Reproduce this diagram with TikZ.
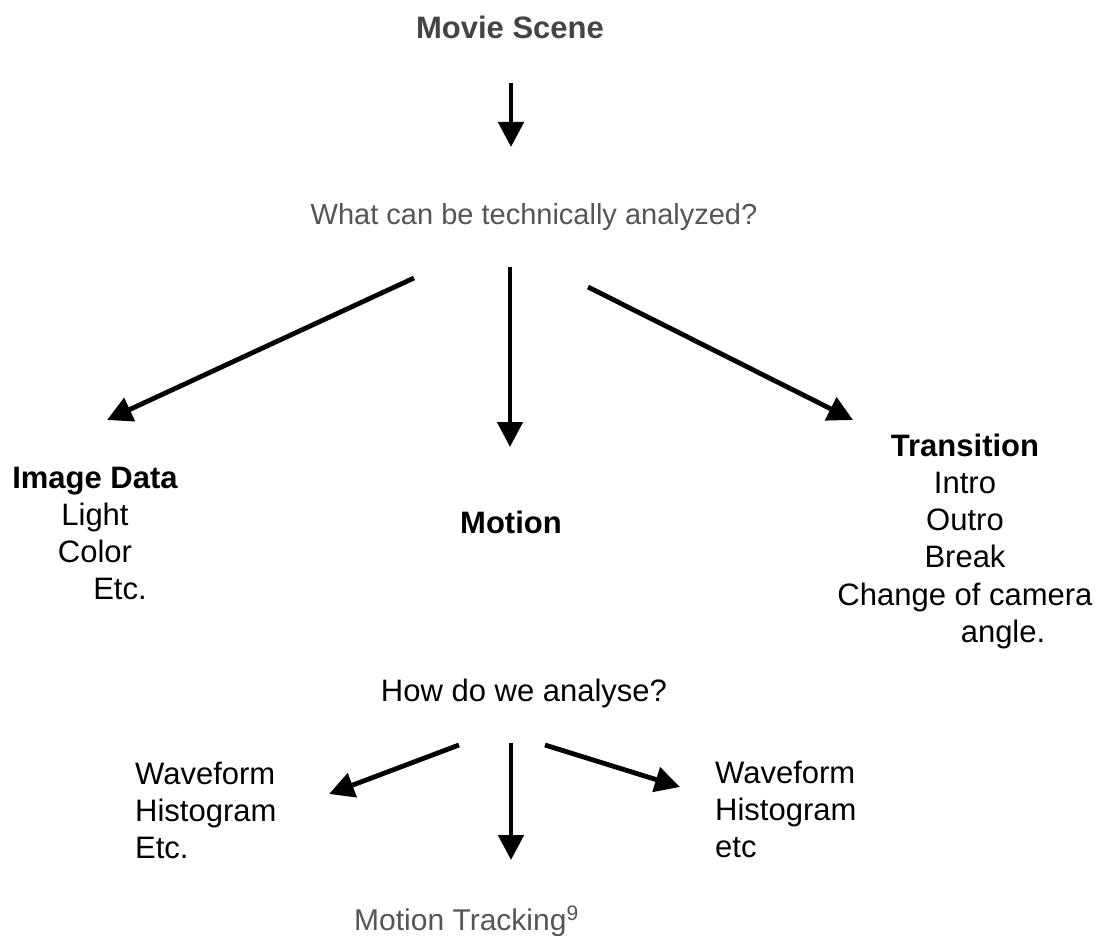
\documentclass[tikz,border=0pt]{standalone}
\usepackage{fontspec}
\setmainfont{Liberation Sans}
\usetikzlibrary{arrows.meta}
\definecolor{titlegray}{HTML}{444444}
\definecolor{textgray}{HTML}{555555}
\begin{document}
\begin{tikzpicture}[x=1pt,y=-1pt,
  lbl/.style={inner sep=0pt, font=\fontsize{31}{37.2}\selectfont},
  arr/.style={line width=4.8pt, -{Triangle[length=25pt,width=25pt]}}]
\useasboundingbox[fill=white] (0,0) rectangle (1108,936);

% texts
\node[lbl, anchor=base, text=titlegray] (title) at (510,39) {\bfseries Movie Scene};
\node[lbl, anchor=base, text=textgray, font=\fontsize{29}{35}\selectfont] (what) at (534,225) {What can be technically analyzed?};
\node[lbl, anchor=north, align=center] (img) at (95,463) {\rule{0pt}{25pt}{\bfseries Image Data}\\ Light\\ Color\\ \hspace*{50pt}Etc.};
\node[lbl, anchor=base] (motion) at (511,533) {\bfseries Motion};
\node[lbl, anchor=north, align=center] (trans) at (965,431) {\rule{0pt}{25pt}{\bfseries Transition}\\ Intro\\ Outro\\ Break\\ Change of camera\\ \hspace*{76pt}angle.};
\node[lbl, anchor=base] (how) at (524,701) {How do we analyse?};
\node[lbl, anchor=north west, align=left] (wl) at (135,759) {\rule{0pt}{25pt}Waveform\\ Histogram\\ Etc.};
\node[lbl, anchor=north west, align=left] (wr) at (715,758) {\rule{0pt}{25pt}Waveform\\ Histogram\\ etc};
\node[lbl, anchor=base west, text=textgray, font=\fontsize{30}{36}\selectfont] (mt) at (354,930) {Motion Tracking\textsuperscript{9}};

% arrow end points
\coordinate (a0s) at (511,83);  \coordinate (a0e) at (511,147);
\coordinate (a1s) at (414,278); \coordinate (a1e) at (107,420);
\coordinate (a2s) at (510,267); \coordinate (a2e) at (510,447);
\coordinate (a3s) at (588,287); \coordinate (a3e) at (853,420);
\coordinate (b1s) at (459,745); \coordinate (b1e) at (329,794);
\coordinate (b2s) at (511,743); \coordinate (b2e) at (511,860);
\coordinate (b3s) at (545,745); \coordinate (b3e) at (680,787);

\draw[arr] (a0s) -- (a0e);
\draw[arr] (a1s) -- (a1e);
\draw[arr] (a2s) -- (a2e);
\draw[arr] (a3s) -- (a3e);
\draw[arr] (b1s) -- (b1e);
\draw[arr] (b2s) -- (b2e);
\draw[arr] (b3s) -- (b3e);
\end{tikzpicture}
\end{document}
